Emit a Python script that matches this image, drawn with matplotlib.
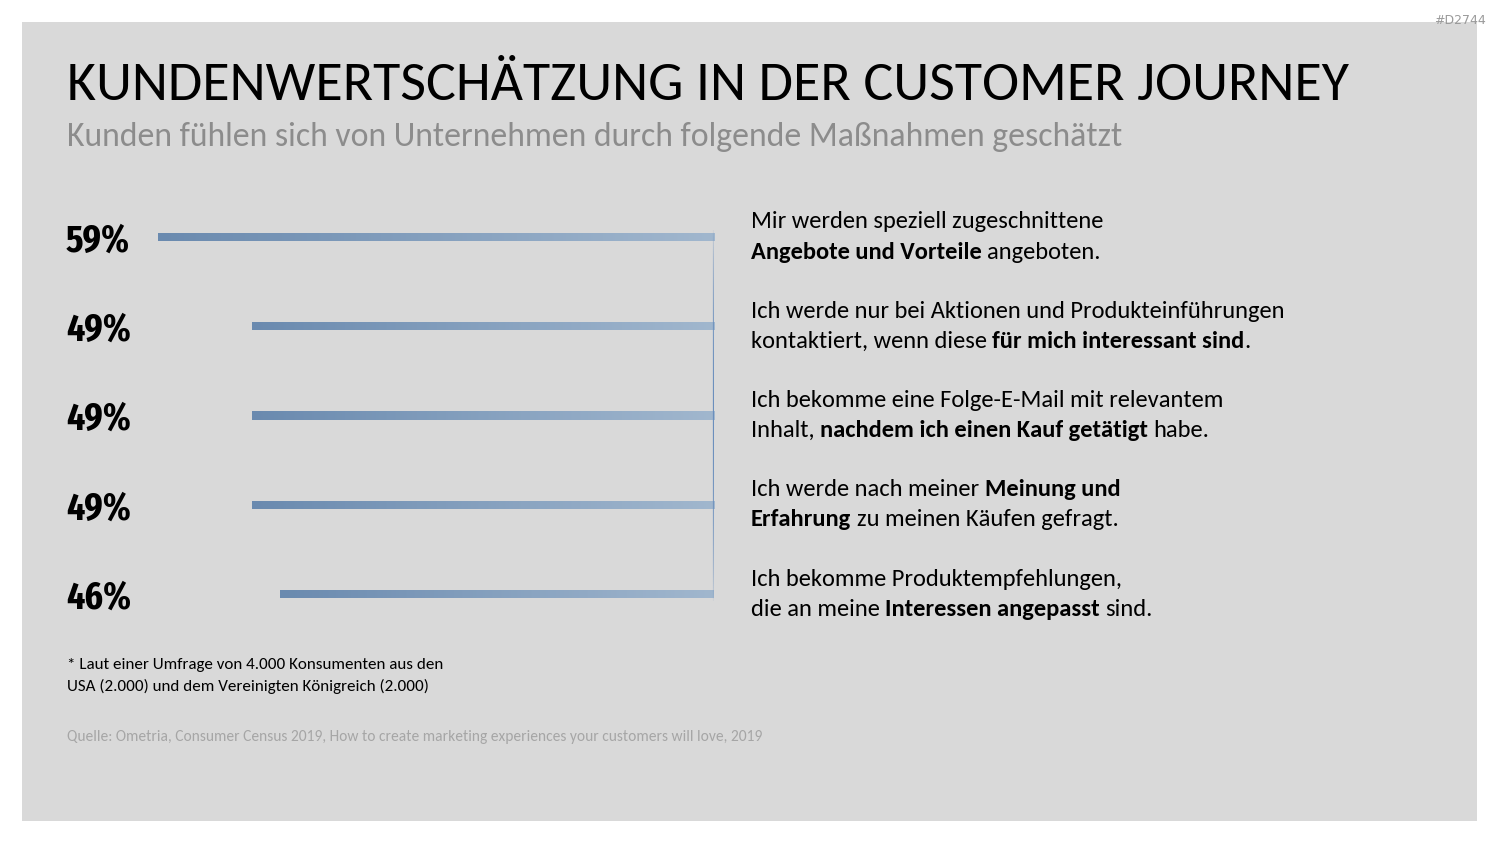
import matplotlib
matplotlib.use("Agg")
import matplotlib.pyplot as plt
import matplotlib.transforms as mtransforms
from matplotlib.collections import LineCollection
from matplotlib import font_manager as fm
import numpy as np

# ---------------- data ----------------
values = [59, 49, 49, 49, 46]
value_labels = ["59%", "49%", "49%", "49%", "46%"]
descriptions = [
    [[("Mir werden speziell zugeschnittene", False)],
     [("Angebote und Vorteile", True), (" angeboten.", False)]],
    [[("Ich werde nur bei Aktionen und Produkteinführungen", False)],
     [("kontaktiert, wenn diese ", False), ("für mich interessant sind", True), (".", False)]],
    [[("Ich bekomme eine Folge-E-Mail mit relevantem", False)],
     [("Inhalt, ", False), ("nachdem ich einen Kauf getätigt", True), (" habe.", False)]],
    [[("Ich werde nach meiner ", False), ("Meinung und", True)],
     [("Erfahrung", True), (" zu meinen Käufen gefragt.", False)]],
    [[("Ich bekomme Produktempfehlungen,", False)],
     [("die an meine ", False), ("Interessen angepasst", True), (" sind.", False)]],
]
title = "KUNDENWERTSCHÄTZUNG IN DER CUSTOMER JOURNEY"
subtitle = "Kunden fühlen sich von Unternehmen durch folgende Maßnahmen geschätzt"
footnote = ["* Laut einer Umfrage von 4.000 Konsumenten aus den",
            "USA (2.000) und dem Vereinigten Königreich (2.000)"]
source = "Quelle: Ometria, Consumer Census 2019, How to create marketing experiences your customers will love, 2019"
tag = "#D2744"


def first_font(cands, need_bold=False):
    for c in cands:
        entries = [f for f in fm.fontManager.ttflist if f.name == c]
        if not entries:
            continue
        if need_bold:
            ok = False
            for f in entries:
                try:
                    w = int(f.weight)
                except Exception:
                    w = 700 if str(f.weight).lower() in ("bold", "heavy", "black") else 400
                if w >= 600:
                    ok = True
            if not ok:
                continue
        return c
    return "DejaVu Sans"

FONT = first_font(["Carlito", "Lato"])
NUMFONT = first_font(["Oswald", "Bebas Neue", "Antonio", "Fira Sans Extra Condensed"], need_bold=True)

W, H = 1500, 844
fig = plt.figure(figsize=(W / 100, H / 100), dpi=100)
fig.patch.set_facecolor("white")
renderer = fig.canvas.get_renderer()

def fx(px):
    return px / W

def fy(py):
    return 1 - py / H

def width_at(s, size, family, weight="normal"):
    tt = fig.text(0, 0, s, fontsize=size, family=family, fontweight=weight)
    w = tt.get_window_extent(renderer).width
    tt.remove()
    return w

def fit(s, target, family, weight="normal"):
    return 20 * target / width_at(s, 20, family, weight)

# gray panel
bg = fig.add_axes([fx(22), fy(821), fx(1477 - 22), (821 - 22) / H])
bg.set_facecolor("#d9d9d9")
bg.set_xticks([]); bg.set_yticks([])
for s in bg.spines.values():
    s.set_visible(False)
bg.set_zorder(0)

fig.text(fx(1486), fy(24), tag, ha="right", va="baseline", fontsize=9,
         color="#9a9a9a", family="DejaVu Sans")

fig.text(fx(67), fy(100), title, ha="left", va="baseline",
         fontsize=fit(title, 1280, FONT), color="#000000", family=FONT)
fig.text(fx(67), fy(146), subtitle, ha="left", va="baseline",
         fontsize=fit(subtitle, 1058, FONT), color="#8c8c8c", family=FONT)

# chart axes: value 0 at x=714, 9.43 px per percent
px_per = 9.43
xmax = 65
ax_left = 714 - xmax * px_per
ytop = 237 - 89.25 / 2
ybot = 594 + 89.25 / 2
ax = fig.add_axes([fx(ax_left), fy(ybot), fx(714 - ax_left), (ybot - ytop) / H])
n = len(values)
ax.axis("off")
ax.patch.set_visible(False)
ax.set_zorder(2)

ypos = np.arange(n)
bars = ax.barh(ypos, values, height=0.09, color="none", edgecolor="none")
grad = np.linspace(0, 1, 256).reshape(1, -1)
cmap = matplotlib.colors.LinearSegmentedColormap.from_list("g", ["#a1b7ce", "#6a8aaf"])
for b, v, y in zip(bars, values, ypos):
    im = ax.imshow(grad, extent=(0, v, y - 0.045, y + 0.045), aspect="auto",
                   cmap=cmap, origin="lower", zorder=3)
    im.set_clip_path(b)
ax.set_xlim(xmax, 0)
ax.set_ylim(n - 0.5, -0.5)

# vertical gradient line at 0
ys = np.linspace(ypos[0] - 0.1, ypos[-1] + 0.1, 200)
segs = [[(0, ys[i]), (0, ys[i + 1])] for i in range(len(ys) - 1)]
t = np.linspace(0, 1, len(segs))
alpha = np.clip(np.sin(np.pi * t) ** 0.6, 0, 1)
cols = [(0.42, 0.56, 0.74, a) for a in alpha]
ax.add_collection(LineCollection(segs, colors=cols, linewidths=1.6, zorder=4))

# percentage labels
num_size = fit(value_labels[0], 64, NUMFONT, "bold")
blend = mtransforms.blended_transform_factory(fig.transFigure, ax.transData)
for lab, y in zip(value_labels, ypos):
    fig.text(fx(66), y, lab, transform=blend, ha="left", va="center_baseline",
             fontsize=num_size, fontweight="bold",
             family=[NUMFONT, "DejaVu Sans"], color="#000000")

# descriptions with mixed bold
DESC_SIZE = fit("Mir werden speziell zugeschnittene", 353, FONT)
space_w = {b: width_at("a a", DESC_SIZE, FONT, "bold" if b else "normal")
           - width_at("aa", DESC_SIZE, FONT, "bold" if b else "normal") for b in (False, True)}

line_off = 15 / H
for lines, y in zip(descriptions, ypos):
    ydisp = ax.transData.transform((0, y))[1] / H
    for li, parts in enumerate(lines):
        yy = ydisp + (line_off if li == 0 else -line_off)
        xpix = 751
        for text, bold in parts:
            lead = len(text) - len(text.lstrip(" "))
            trail = len(text) - len(text.rstrip(" "))
            xpix += lead * space_w[bold]
            core = text.strip(" ")
            tt = fig.text(fx(xpix), yy, core, ha="left", va="center",
                          fontsize=DESC_SIZE, family=FONT,
                          fontweight="bold" if bold else "normal", color="#000000")
            xpix += tt.get_window_extent(renderer).width + trail * space_w[bold]

# footnote and source
fs = fit(footnote[0], 375, FONT)
fig.text(fx(67), fy(665), footnote[0], ha="left", va="center", fontsize=fs,
         family=FONT, color="#000000")
fig.text(fx(67), fy(686), footnote[1], ha="left", va="center", fontsize=fs,
         family=FONT, color="#000000")
fig.text(fx(67), fy(737), source, ha="left", va="center",
         fontsize=fit(source, 696, FONT), family=FONT, color="#a6a6a6")

fig.savefig("out.png", dpi=100)
